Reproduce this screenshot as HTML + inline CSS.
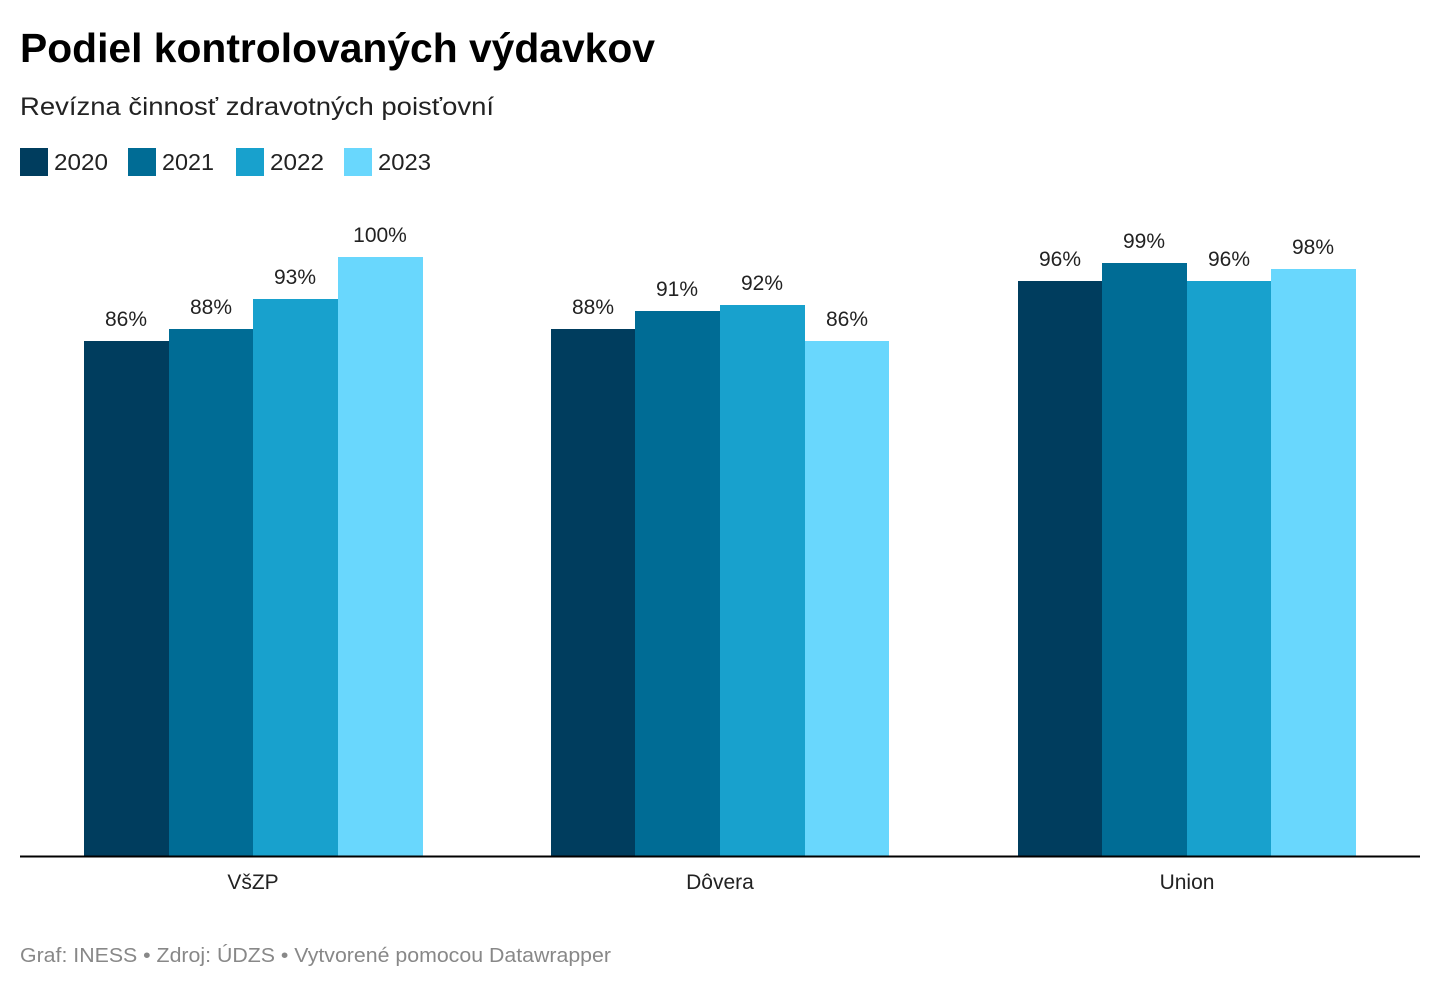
<!DOCTYPE html>
<html><head><meta charset="utf-8"><style>
html,body{margin:0;padding:0;background:#fff;}
svg{display:block;font-family:"Liberation Sans",sans-serif;}
</style></head><body>
<svg width="1440" height="988" viewBox="0 0 1440 988" xmlns="http://www.w3.org/2000/svg">
<text x="20" y="62" font-size="41" font-weight="bold" fill="#000" textLength="635" lengthAdjust="spacingAndGlyphs">Podiel kontrolovaných výdavkov</text>
<text x="20" y="115" font-size="25" fill="#222" textLength="474" lengthAdjust="spacingAndGlyphs">Revízna činnosť zdravotných poisťovní</text>
<g font-size="23" fill="#222">
<rect x="20" y="148" width="28" height="28" fill="#003d5e"/><text x="54" y="170" textLength="54" lengthAdjust="spacingAndGlyphs">2020</text>
<rect x="128" y="148" width="28" height="28" fill="#006c95"/><text x="162" y="170" textLength="52" lengthAdjust="spacingAndGlyphs">2021</text>
<rect x="236" y="148" width="28" height="28" fill="#18a1cd"/><text x="270" y="170" textLength="54" lengthAdjust="spacingAndGlyphs">2022</text>
<rect x="344" y="148" width="28" height="28" fill="#69d7fd"/><text x="378" y="170" textLength="53" lengthAdjust="spacingAndGlyphs">2023</text>
</g>
<g>
<rect x="84" y="341" width="85" height="515" fill="#003d5e"/>
<rect x="169" y="329" width="84" height="527" fill="#006c95"/>
<rect x="253" y="299" width="85" height="557" fill="#18a1cd"/>
<rect x="338" y="257" width="85" height="599" fill="#69d7fd"/>
<rect x="551" y="329" width="84" height="527" fill="#003d5e"/>
<rect x="635" y="311" width="85" height="545" fill="#006c95"/>
<rect x="720" y="305" width="85" height="551" fill="#18a1cd"/>
<rect x="805" y="341" width="84" height="515" fill="#69d7fd"/>
<rect x="1018" y="281" width="84" height="575" fill="#003d5e"/>
<rect x="1102" y="263" width="85" height="593" fill="#006c95"/>
<rect x="1187" y="281" width="84" height="575" fill="#18a1cd"/>
<rect x="1271" y="269" width="85" height="587" fill="#69d7fd"/>
</g>
<g font-size="21" fill="#222" text-anchor="middle">
<text x="126" y="326">86%</text>
<text x="211" y="314">88%</text>
<text x="295" y="284">93%</text>
<text x="380" y="242">100%</text>
<text x="593" y="314">88%</text>
<text x="677" y="296">91%</text>
<text x="762" y="290">92%</text>
<text x="847" y="326">86%</text>
<text x="1060" y="266">96%</text>
<text x="1144" y="248">99%</text>
<text x="1229" y="266">96%</text>
<text x="1313" y="254">98%</text>
</g>
<line x1="20" y1="856.5" x2="1420" y2="856.5" stroke="#000" stroke-width="2"/>
<g font-size="21" fill="#222" text-anchor="middle">
<text x="253" y="889">VšZP</text>
<text x="720" y="889">Dôvera</text>
<text x="1187" y="889">Union</text>
</g>
<text x="20" y="962" font-size="20" fill="#888" textLength="591" lengthAdjust="spacingAndGlyphs">Graf: INESS • Zdroj: ÚDZS • Vytvorené pomocou Datawrapper</text>
</svg>
</body></html>
